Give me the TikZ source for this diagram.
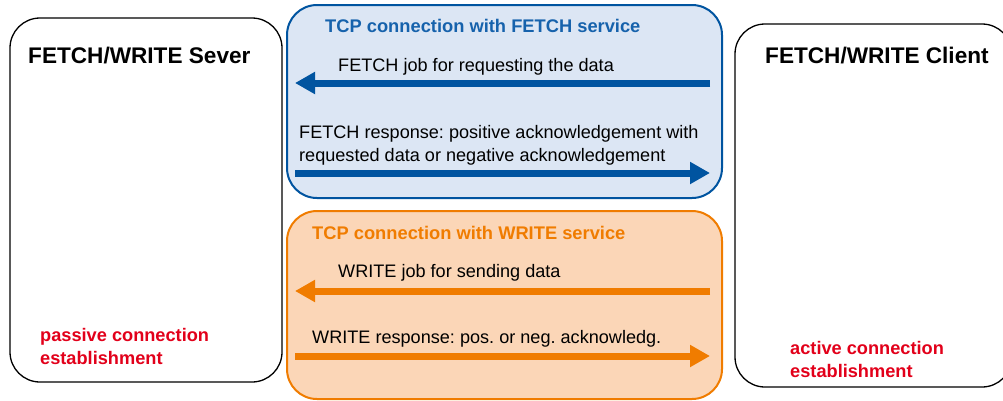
\documentclass[tikz,border=0pt]{standalone}
\usepackage{fontspec}
\setmainfont{Liberation Sans}
\usetikzlibrary{arrows.meta}
\definecolor{fwblue}{RGB}{0,84,160}
\definecolor{fwbluetxt}{RGB}{22,98,172}
\definecolor{fwbluefill}{RGB}{220,230,244}
\definecolor{fworange}{RGB}{240,124,0}
\definecolor{fworangefill}{RGB}{251,214,183}
\definecolor{fwred}{RGB}{226,0,26}
\frenchspacing
\tikzset{
  party/.style={draw=black, line width=1.3pt, rounded corners=30pt},
  conn/.style={line width=2pt, rounded corners=30pt},
  title/.style={font=\fontsize{22.6}{26}\selectfont\bfseries, inner sep=0pt, anchor=base west},
  lbl/.style={font=\fontsize{18.1}{23}\selectfont, inner sep=0pt, anchor=base west, align=left},
  redlbl/.style={font=\fontsize{18.2}{22.5}\selectfont\bfseries, text=fwred, inner sep=0pt, anchor=base west, align=left},
  ctitle/.style={font=\fontsize{18.3}{22}\selectfont\bfseries, inner sep=0pt, anchor=base west},
  bigarrow/.style={line width=7pt, -{Triangle[length=20pt,width=21pt]}},
}
\begin{document}
\begin{tikzpicture}[x=1pt,y=-1pt]
\useasboundingbox (0,0) rectangle (1003,400);
\clip (0,0) rectangle (1003,400);
% server and client
\draw[party] (10,18) rectangle (282,382);
\draw[party] (735,24) rectangle (1012,387);
\node[title] (srvt) at (28,63) {FETCH/WRITE Sever};
\node[title] (clit) at (765,63) {FETCH/WRITE Client};
\node[redlbl] (pas) at (40,364) {passive connection\\establishment};
\node[redlbl] (act) at (790,377) {active connection\\establishment};
% FETCH connection
\draw[conn, draw=fwblue, fill=fwbluefill] (287,5) rectangle (722,198);
\node[ctitle, text=fwbluetxt] (ft) at (325,32) {TCP connection with FETCH service};
\node[lbl] (fj) at (338,71) {FETCH job for requesting the data};
\node[lbl] (fr) at (299,161) {FETCH response: positive acknowledgement with\\requested data or negative acknowledgement};
\coordinate (f1r) at (710,83);
\coordinate (f1l) at (295,83);
\coordinate (f2l) at (295,173);
\coordinate (f2r) at (710,173);
\draw[bigarrow, fwblue] (f1r) -- (f1l);
\draw[bigarrow, fwblue] (f2l) -- (f2r);
% WRITE connection
\draw[conn, draw=fworange, fill=fworangefill] (287,211) rectangle (722,399);
\node[ctitle, text=fworange] (wt) at (312,239) {TCP connection with WRITE service};
\node[lbl] (wj) at (338,277) {WRITE job for sending data};
\node[lbl] (wr) at (312,343) {WRITE response: pos. or neg. acknowledg.};
\coordinate (w1r) at (710,291);
\coordinate (w1l) at (295,291);
\coordinate (w2l) at (295,356);
\coordinate (w2r) at (710,356);
\draw[bigarrow, fworange] (w1r) -- (w1l);
\draw[bigarrow, fworange] (w2l) -- (w2r);
\end{tikzpicture}
\end{document}
